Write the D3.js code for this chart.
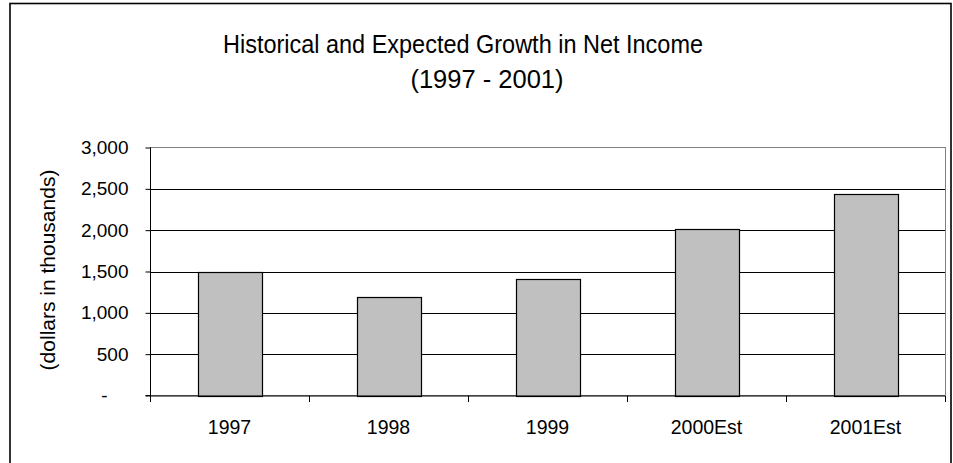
<!DOCTYPE html>
<html>
<head>
<meta charset="utf-8">
<script src="https://cdn.jsdelivr.net/npm/d3@7"></script>
<style>
  html, body { margin: 0; padding: 0; background: #fff; }
  svg { display: block; font-family: "Liberation Sans", Arial, sans-serif; }
</style>
</head>
<body>
<svg id="chart" width="953" height="463"></svg>
<script>
// ---- data ----
const categories = ["1997", "1998", "1999", "2000Est", "2001Est"];
const netIncome = [1492, 1190, 1411, 2015, 2443];
const yTicks = [0, 500, 1000, 1500, 2000, 2500, 3000];
const yTickLabels = ["-", "500", "1,000", "1,500", "2,000", "2,500", "3,000"];
const titleLines = ["Historical and Expected Growth in Net Income", "(1997 - 2001)"];
const yAxisTitle = "(dollars in thousands)";

// ---- layout ----
const svg = d3.select("#chart");
const plot = { left: 150, right: 945, top: 147.5, bottom: 395.5 };

// outer frame
svg.append("rect")
  .attr("x", 10).attr("y", 3.5)
  .attr("width", 941).attr("height", 470)
  .attr("fill", "none").attr("stroke", "#000").attr("stroke-width", 1.6);

const xBand = d3.scaleBand().domain(categories).range([plot.left, plot.right]).padding(0);
const y = d3.scaleLinear().domain([0, 3000]).range([plot.bottom, plot.top]);

// plot area border (grey)
svg.append("rect")
  .attr("x", plot.left + 0.5).attr("y", plot.top)
  .attr("width", plot.right - plot.left).attr("height", plot.bottom - plot.top)
  .attr("fill", "none").attr("stroke", "#808080").attr("stroke-width", 1);

// gridlines
svg.append("g").selectAll("line")
  .data(yTicks.filter(t => t > 0 && t < 3000))
  .join("line")
  .attr("x1", plot.left).attr("x2", plot.right)
  .attr("y1", d => Math.round(y(d)) + 0.5).attr("y2", d => Math.round(y(d)) + 0.5)
  .attr("stroke", "#000").attr("stroke-width", 1);

// bars
const barW = xBand.bandwidth() / 2.5;
svg.append("g").selectAll("rect")
  .data(categories.map((c, i) => ({ c, v: netIncome[i] })))
  .join("rect")
  .attr("x", d => Math.round(xBand(d.c) + xBand.bandwidth() / 2 - barW / 2) + 0.5)
  .attr("y", d => Math.round(y(d.v)) + 0.5)
  .attr("width", Math.round(barW))
  .attr("height", d => Math.round(y(0)) - Math.round(y(d.v)))
  .attr("fill", "#c0c0c0").attr("stroke", "#000").attr("stroke-width", 1.2);

// y axis
const yAxis = d3.axisLeft(y).tickValues(yTicks).tickSize(5).tickPadding(17)
  .tickFormat((d, i) => yTickLabels[i]);
const gy = svg.append("g").attr("transform", `translate(${plot.left + 0.5},0)`).call(yAxis);
gy.select(".domain").attr("stroke", "#000").attr("d", `M-5,${plot.bottom}H0V${plot.top}`);
gy.selectAll(".tick line").attr("stroke", "#000");
gy.selectAll(".tick text")
  .attr("fill", "#000").style("font-size", "19px")
  .attr("font-family", "Liberation Sans, Arial, sans-serif")
  .attr("dx", (d, i) => yTickLabels[i] === "-" ? -21 : 0);

// x axis with ticks at band boundaries
const gx = svg.append("g").attr("transform", `translate(0,${plot.bottom + 0.5})`);
gx.append("line").attr("x1", plot.left).attr("x2", plot.right).attr("stroke", "#000");
gx.selectAll("line.tk")
  .data(categories.concat(["__end"]))
  .join("line").attr("class", "tk")
  .attr("x1", (d, i) => Math.round(i < categories.length ? xBand(d) : plot.right) + 0.5)
  .attr("x2", (d, i) => Math.round(i < categories.length ? xBand(d) : plot.right) + 0.5)
  .attr("y1", 0).attr("y2", 6).attr("stroke", "#000");
gx.selectAll("text")
  .data(categories)
  .join("text")
  .attr("x", d => xBand(d) + xBand.bandwidth() / 2)
  .attr("y", 38)
  .attr("text-anchor", "middle")
  .style("font-size", "19.5px").attr("fill", "#000")
  .text(d => d);

// title
svg.append("text").attr("x", 463).attr("y", 53).attr("text-anchor", "middle")
  .attr("textLength", 480).attr("lengthAdjust", "spacingAndGlyphs")
  .style("font-size", "25.5px").attr("fill", "#000").text(titleLines[0]);
svg.append("text").attr("x", 487).attr("y", 88).attr("text-anchor", "middle")
  .style("font-size", "25.5px").attr("fill", "#000").text(titleLines[1]);

// y-axis title
svg.append("text")
  .attr("transform", "translate(48,270) rotate(-90)")
  .attr("text-anchor", "middle").attr("dy", "0.35em")
  .style("font-size", "21px").attr("fill", "#000")
  .text(yAxisTitle);
</script>
</body>
</html>
